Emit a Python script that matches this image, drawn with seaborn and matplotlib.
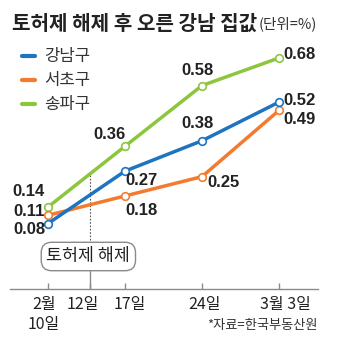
import matplotlib
matplotlib.use("Agg")
import matplotlib.pyplot as plt
from matplotlib.lines import Line2D
from matplotlib.transforms import ScaledTranslation
import seaborn as sns
import pandas as pd

# ---- data ----
dates = ["2월\n10일", "12일", "17일", "24일", "3월 3일"]
days = [0, 7, 14, 21]            # days since Feb 10 for the survey points
gangnam = [0.08, 0.27, 0.38, 0.52]
seocho = [0.11, 0.18, 0.25, 0.49]
songpa = [0.14, 0.36, 0.58, 0.68]
series_names = ["강남구", "서초구", "송파구"]
title = "토허제 해제 후 오른 강남 집값"
unit = "(단위=%)"
event_label = "토허제 해제"
source = "*자료=한국부동산원"

# ---- style ----
colors = ["#1f74c1", "#f37b2f", "#8cc63e"]
event_x = 3.82
tick_pos = [0, event_x, 7, 14, 21]
tick_shift_px = [-4, -7, 5, 3, 6]
# label offsets in pixels (dx, dy-up)
offsets = {
    "강남구": [(-19, -6), (17, -9), (-4, 17), (20, 2)],
    "서초구": [(-19, 4), (16, -15), (22, -6), (20, -9)],
    "송파구": [(-20, 15), (-15, 12), (-5, 15), (20, 3)],
}

W, H = 346, 348
sns.set_theme(style="white")
plt.rcParams["font.family"] = ["Noto Sans CJK KR", "DejaVu Sans"]
fig = plt.figure(figsize=(W / 100, H / 100), dpi=100)

def fx(px):
    return px / W

def fy(py):
    return 1 - py / H

ax_left, ax_right, ax_top, ax_bot = 10, 318, 30, 289
ax = fig.add_axes([fx(ax_left), fy(ax_bot), (ax_right - ax_left) / W, (ax_bot - ax_top) / H])

px_per_day = 11.0
x0_px = 48
ax.set_xlim((ax_left - x0_px) / px_per_day, (ax_right - x0_px) / px_per_day)
def v_of(py):
    return 0.14 - (py - 207) / 276.0
ax.set_ylim(v_of(ax_bot), v_of(ax_top))

rows = []
for name, vals in zip(series_names, [gangnam, seocho, songpa]):
    for d, v in zip(days, vals):
        rows.append({"day": d, "value": v, "gu": name})
df = pd.DataFrame(rows)

for name, c in zip(["송파구", "서초구", "강남구"], [colors[2], colors[1], colors[0]]):
    sub = df[df["gu"] == name]
    sns.lineplot(data=sub, x="day", y="value", ax=ax, color=c, linewidth=2.5,
                 marker="o", markersize=5.5, markerfacecolor="white",
                 markeredgecolor=c, markeredgewidth=1.2, legend=False, zorder=3)

lab_font = dict(family=["Liberation Sans", "DejaVu Sans"], fontweight="bold",
                fontsize=12, color="#222222")
for name, vals in zip(series_names, [gangnam, seocho, songpa]):
    for d, v, (dx, dy) in zip(days, vals, offsets[name]):
        ax.annotate(f"{v:.2f}", (d, v), xytext=(dx * 0.72, dy * 0.72),
                    textcoords="offset points", ha="center", va="center", **lab_font)

for s in ["top", "right", "left"]:
    ax.spines[s].set_visible(False)
ax.spines["bottom"].set_color("#8a8a8a")
ax.spines["bottom"].set_linewidth(1.0)
ax.set_yticks([])
ax.set_xticks(tick_pos)
ax.set_xticklabels(dates, fontsize=11.5, color="#222222", linespacing=1.25, va="top")
ax.tick_params(axis="x", direction="in", length=4, width=1, color="#8a8a8a", pad=5, bottom=True)
for lbl, sh in zip(ax.get_xticklabels(), tick_shift_px):
    lbl.set_transform(lbl.get_transform() + ScaledTranslation(sh / 100, 0, fig.dpi_scale_trans))
ax.set_xlabel("")
ax.set_ylabel("")

ax.plot([event_x, event_x], [v_of(175), v_of(242)], color="#555555", lw=0.8,
        ls=(0, (1.5, 1.5)), zorder=1)
ax.plot([event_x, event_x], [v_of(271), v_of(289)], color="#8a8a8a", lw=1.0, zorder=1)
ax.text(event_x - 0.15, v_of(256.5), event_label, ha="center", va="center", fontsize=12.5,
        color="#222222",
        bbox=dict(boxstyle="round,pad=0.3,rounding_size=0.6", fc="white", ec="#8a8a8a", lw=1.0))

for i, (name, c) in enumerate(zip(series_names, colors)):
    py = 56 + i * 24
    fig.add_artist(Line2D([fx(22), fx(35)], [fy(py), fy(py)], color=c, lw=3,
                          solid_capstyle="round", transform=fig.transFigure))
    fig.text(fx(44), fy(py), name, fontsize=12, color="#333333", va="center", ha="left")

t = fig.text(fx(12), fy(23), title, fontsize=14.5, fontweight="bold", color="#222222",
             va="center", ha="left")
fig.canvas.draw()
bb = t.get_window_extent()
fig.text(bb.x1 / W + fx(1), fy(24), unit, fontsize=10.5, color="#333333", va="center", ha="left")

fig.text(fx(318), fy(326), source, fontsize=9.5, color="#333333", ha="right", va="center")

fig.savefig("out.png", dpi=100)
